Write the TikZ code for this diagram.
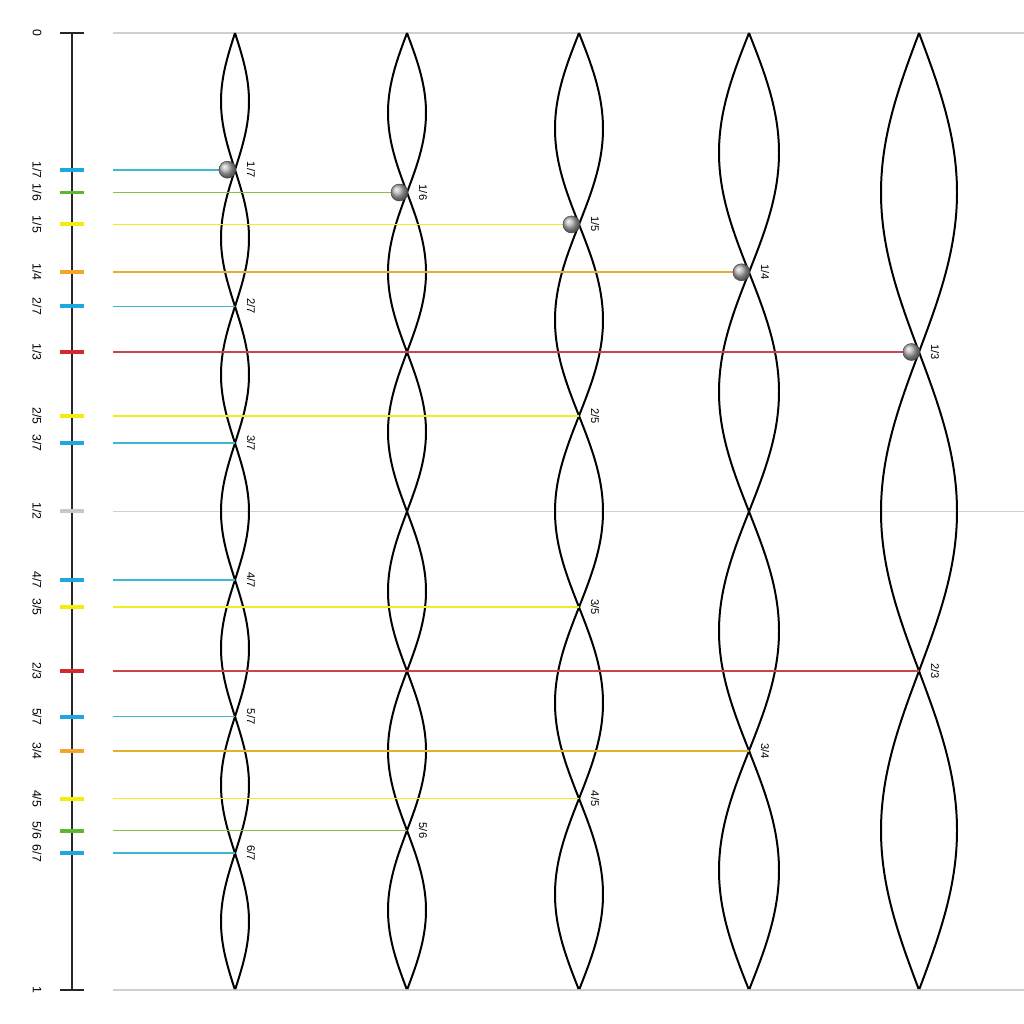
\documentclass[tikz,border=0pt]{standalone}
\usepackage{fontspec}
\setmainfont{Liberation Sans}
\usetikzlibrary{positioning,calc}

\definecolor{sev}{HTML}{1EA8E0}
\definecolor{six}{HTML}{5DB82F}
\definecolor{fif}{HTML}{F2EE0A}
\definecolor{qua}{HTML}{F4A52A}
\definecolor{thi}{HTML}{D42A2F}
\definecolor{hal}{HTML}{C8C8C8}
\definecolor{sevline}{HTML}{3FB6D2}
\definecolor{sixline}{HTML}{8CBE3F}
\definecolor{fifline}{HTML}{EEEE22}
\definecolor{qualine}{HTML}{E2B22E}
\definecolor{thiline}{HTML}{C8464A}
\definecolor{halline}{HTML}{CFCFCF}

\begin{document}
\begin{tikzpicture}[x=0.03cm, y=-0.03cm,
    wave/.style={black, line width=1.7pt},
    axisline/.style={black!85, line width=2pt},
    tickmark/.style={line width=3.4pt},
    guide/.style={line width=1.4pt},
    frac/.style={font=\fontsize{10.5}{10.5}\selectfont, rotate=-90, inner sep=0pt},
    nodefrac/.style={font=\fontsize{9.5}{9.5}\selectfont, rotate=-90, inner sep=0pt},
    knot/.style={circle, draw=black!75, thin, shading=ball, ball color=black!30, minimum size=0.51cm, inner sep=0pt}
]
    \useasboundingbox (0,0) rectangle (1024,1024);

    % Vertical scale
    \coordinate (top) at (72,33);
    \coordinate (bot) at (72,990);
    \draw[axisline] (top) -- (bot);
    \draw[axisline] ($(top)+(-12,0)$) -- ($(top)+(12,0)$);
    \draw[axisline] ($(bot)+(-12,0)$) -- ($(bot)+(12,0)$);
    \node[frac] (l-0) at (37,33) {0};
    \node[frac] (l-1) at (37,990) {1};

    % Gray reference lines at 0, 1/2 and 1
    \foreach \f/\nm in {0/a, 0.5/b, 1/c} {
        \coordinate (g-\nm-s) at (113,{33+957*\f});
        \coordinate (g-\nm-e) at (1024,{33+957*\f});
        \draw[line width=0.9pt, halline] (g-\nm-s) -- (g-\nm-e);
    }
    \draw[tickmark, hal] (60,511) -- (84,511);
    \node[frac] (l-1-2) at (37,511) {1/2};

    % Standing waves with n loops
    \foreach \n/\cx/\amp in {7/235/14, 6/407/19, 5/579/24, 4/749/30, 3/919/38} {
        \draw[wave] plot[domain=0:1, samples=140, smooth] ({\cx+\amp*sin(\n*180*\x)}, {33+957*\x});
        \draw[wave] plot[domain=0:1, samples=140, smooth] ({\cx-\amp*sin(\n*180*\x)}, {33+957*\x});
        \foreach \k in {1,...,\numexpr\n-1\relax}
            \coordinate (c\n-\k) at (\cx,{33+957*\k/\n});
    }

    % Fractions: tick, left label, guide line and node label
    \foreach \k/\d/\col in {1/7/sev, 1/6/six, 1/5/fif, 1/4/qua, 2/7/sev, 1/3/thi,
                            2/5/fif, 3/7/sev, 4/7/sev, 3/5/fif, 2/3/thi, 5/7/sev,
                            3/4/qua, 4/5/fif, 5/6/six, 6/7/sev} {
        \coordinate (t-\k-\d) at (72,{33+957*\k/\d});
        \coordinate (s-\k-\d) at (113,{33+957*\k/\d});
        \draw[tickmark, \col] ($(t-\k-\d)+(-12,0)$) -- ($(t-\k-\d)+(12,0)$);
        \node[frac] (l-\k-\d) at ($(t-\k-\d)+(-35,0)$) {\k/\d};
        \draw[guide, \col line] (s-\k-\d) -- (c\d-\k);
        \node[nodefrac] (n-\k-\d) at ($(c\d-\k)+(16,0)$) {\k/\d};
    }

    % First node of each wave
    \foreach \n in {7,6,5,4,3}
        \node[knot, anchor=east] (k\n) at ([xshift=1pt]c\n-1) {};

\end{tikzpicture}
\end{document}
